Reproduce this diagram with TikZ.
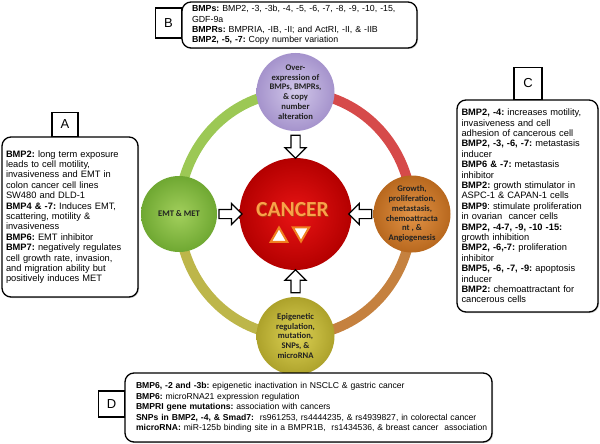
\documentclass[tikz,border=0pt]{standalone}
\usepackage{fontspec}
\setmainfont{Liberation Sans}
\newfontfamily\calfont{Carlito}
\usetikzlibrary{shapes.geometric,shapes.arrows,shadows}
\definecolor{ringgreen}{HTML}{9CC855}
\definecolor{ringred}{HTML}{D64A4A}
\definecolor{ringbrown}{HTML}{C5813F}
\definecolor{ringolive}{HTML}{BDB64A}
\definecolor{lavin}{HTML}{D2C8EA}
\definecolor{lavout}{HTML}{A593CC}
\definecolor{grnin}{HTML}{A2CF5C}
\definecolor{grnout}{HTML}{6FA832}
\definecolor{orgin}{HTML}{E39447}
\definecolor{orgout}{HTML}{B8681E}
\definecolor{yelin}{HTML}{DDD255}
\definecolor{yelout}{HTML}{ADA22B}
\definecolor{redin}{HTML}{E81414}
\definecolor{redout}{HTML}{B40000}
\definecolor{canorange}{HTML}{F8A24A}
\definecolor{canshadow}{HTML}{B04010}
\definecolor{triorange}{HTML}{F08020}
\definecolor{bubtext}{HTML}{222222}
\frenchspacing
\hbadness=10000 \hfuzz=100pt
\begin{document}
\begin{tikzpicture}[x=1pt,y=-1pt,
  infobox/.style={draw, line width=1.3pt, rounded corners=9pt, fill=white, align=left,
    inner sep=0pt, drop shadow={shadow xshift=1pt, shadow yshift=-1pt, opacity=0.45}},
  bigtext/.style={font=\fontsize{9.3}{10.4}\selectfont},
  smalltext/.style={font=\fontsize{8.8}{10.4}\selectfont},
  dtext/.style={font=\fontsize{8.6}{10.4}\selectfont},
  lbl/.style={draw, line width=1.1pt, fill=white, inner sep=0pt,
    font=\fontsize{13}{15}\selectfont},
  bubble/.style={circle, inner sep=0pt, align=center, shade, text=bubtext,
    font=\calfont\bfseries\fontsize{8.6}{9.8}\selectfont},
  blockarrow/.style={single arrow, draw, line width=1.2pt, fill=white, inner xsep=0pt,
    inner ysep=4pt, single arrow head extend=6pt, minimum height=23pt},
  ringarc/.style={line width=10pt, line cap=butt},
  tri/.style={regular polygon, regular polygon sides=3, draw=triorange, line width=2pt,
    fill=white, minimum size=19pt, inner sep=0pt}
]
\useasboundingbox (0,0) rectangle (600,444);

% ring
\draw[ringarc, ringgreen] plot[domain=180:270, samples=40, variable=\t] ({295.5+116.5*cos(\t)}, {214+122*sin(\t)});
\draw[ringarc, ringred] plot[domain=270:360, samples=40, variable=\t] ({295.5+116.5*cos(\t)}, {214+122*sin(\t)});
\draw[ringarc, ringbrown] plot[domain=0:90, samples=40, variable=\t] ({295.5+116.5*cos(\t)}, {214+122*sin(\t)});
\draw[ringarc, ringolive] plot[domain=90:180, samples=40, variable=\t] ({295.5+116.5*cos(\t)}, {214+122*sin(\t)});

% circles
\node[bubble, minimum size=78pt, inner color=lavin, outer color=lavout] (top) at (295.5,92)
  {Over-\\expression of\\BMPs, BMPRs,\\\& copy\\number\\alteration};
\node[bubble, minimum size=76pt, inner color=grnin, outer color=grnout] (left) at (179,214)
  {EMT \& MET};
\node[bubble, minimum size=77pt, inner color=orgin, outer color=orgout] (right) at (412,214)
  {Growth,\\proliferation,\\metastasis,\\chemoattracta\\nt , \&\\Angiogenesis};
\node[bubble, minimum size=78pt, inner color=yelin, outer color=yelout] (bottom) at (295.5,336)
  {Epigenetic\\regulation,\\mutation,\\SNPs, \&\\microRNA};
\node[circle, minimum size=112pt, inner sep=0pt, shade, inner color=redin, outer color=redout] (cancer) at (295.5,214) {};

\node[font=\calfont\bfseries\fontsize{21.5}{24}\selectfont, text=canshadow] at (293.2,210.8) {CANCER};
\node[font=\calfont\bfseries\fontsize{21.5}{24}\selectfont, text=canorange] (cancertxt) at (292.5,210) {CANCER};
\node[tri] (up) at (279,237) {};
\node[tri, shape border rotate=180] (down) at (301,232) {};

% block arrows
\path (top.south) -- node[blockarrow, rotate=-90] (arrT) {} (cancer.north);
\path (left.east) -- node[blockarrow] (arrL) {} (cancer.west);
\path (right.west) -- node[blockarrow, rotate=180] (arrR) {} (cancer.east);
\path (bottom.north) -- node[blockarrow, rotate=90] (arrB) {} (cancer.south);

% box A
\node[infobox, bigtext, minimum width=136pt, minimum height=160pt, text width=128pt] (boxA) at (70,217)
 {\textbf{BMP2:} long term exposure\\
  leads to cell motility,\\
  invasiveness and EMT in\\
  colon cancer cell lines\\
  SW480 and DLD-1\\
  \textbf{BMP4 \& -7:} Induces EMT,\\
  scattering, motility \&\\
  invasiveness\\
  \textbf{BMP6:} EMT inhibitor\\
  \textbf{BMP7:} negatively regulates\\
  cell growth rate, invasion,\\
  and migration ability but\\
  positively induces MET};
\node[lbl, minimum width=26pt, minimum height=24pt, anchor=south] (labA) at (65,137) {A};

% box B
\node[infobox, smalltext, minimum width=235pt, minimum height=46pt, text width=215pt] (boxB) at (299.5,25)
 {\mbox{\textbf{BMPs:} BMP2, -3, -3b, -4, -5, -6, -7, -8, -9, -10, -15,}\\
  GDF-9a\\
  \mbox{\textbf{BMPRs:} BMPRIA, -IB, -II; and ActRI, -II, \& -IIB}\\
  \textbf{BMP2, -5, -7:} Copy number variation};
\node[lbl, minimum width=26pt, minimum height=30pt, anchor=east] (labB) at (182,23) {B};

% box C
\node[infobox, bigtext, minimum width=141pt, minimum height=212pt, text width=132pt] (boxC) at (527.5,206)
 {\textbf{BMP2, -4:} increases motility,\\
  invasiveness and cell\\
  adhesion of cancerous cell\\
  \textbf{BMP2, -3, -6, -7:} metastasis\\
  inducer\\
  \textbf{BMP6 \& -7:} metastasis\\
  inhibitor\\
  \textbf{BMP2:} growth stimulator in\\
  ASPC-1 \& CAPAN-1 cells\\
  \textbf{BMP9}: stimulate proliferation\\
  in ovarian\ \ cancer cells\\
  \textbf{BMP2, -4-7, -9, -10 -15:}\\
  growth inhibition\\
  \textbf{BMP2, -6,-7:} proliferation\\
  inhibitor\\
  \textbf{BMP5, -6, -7, -9:} apoptosis\\
  inducer\\
  \textbf{BMP2:} chemoattractant for\\
  cancerous cells};
\node[lbl, minimum width=28pt, minimum height=32pt, anchor=south] (labC) at (528,100) {C};

% box D
\node[infobox, dtext, minimum width=367pt, minimum height=69pt, text width=345pt] (boxD) at (308.5,407.5)
 {\mbox{\textbf{BMP6, -2 and -3b:} epigenetic inactivation in NSCLC \& gastric cancer}\\
  \mbox{\textbf{BMP6:} microRNA21 expression regulation}\\
  \mbox{\textbf{BMPRI gene mutations:} association with cancers}\\
  \mbox{\textbf{SNPs in BMP2, -4, \& Smad7:}\ \ rs961253, rs4444235, \& rs4939827, in colorectal cancer}\\
  \mbox{\textbf{microRNA:} miR-125b binding site in a BMPR1B,\ \ rs1434536, \& breast cancer\ \ association}};
\node[lbl, minimum width=26pt, minimum height=26pt, anchor=east] (labD) at (125,404) {D};
\end{tikzpicture}
\end{document}
